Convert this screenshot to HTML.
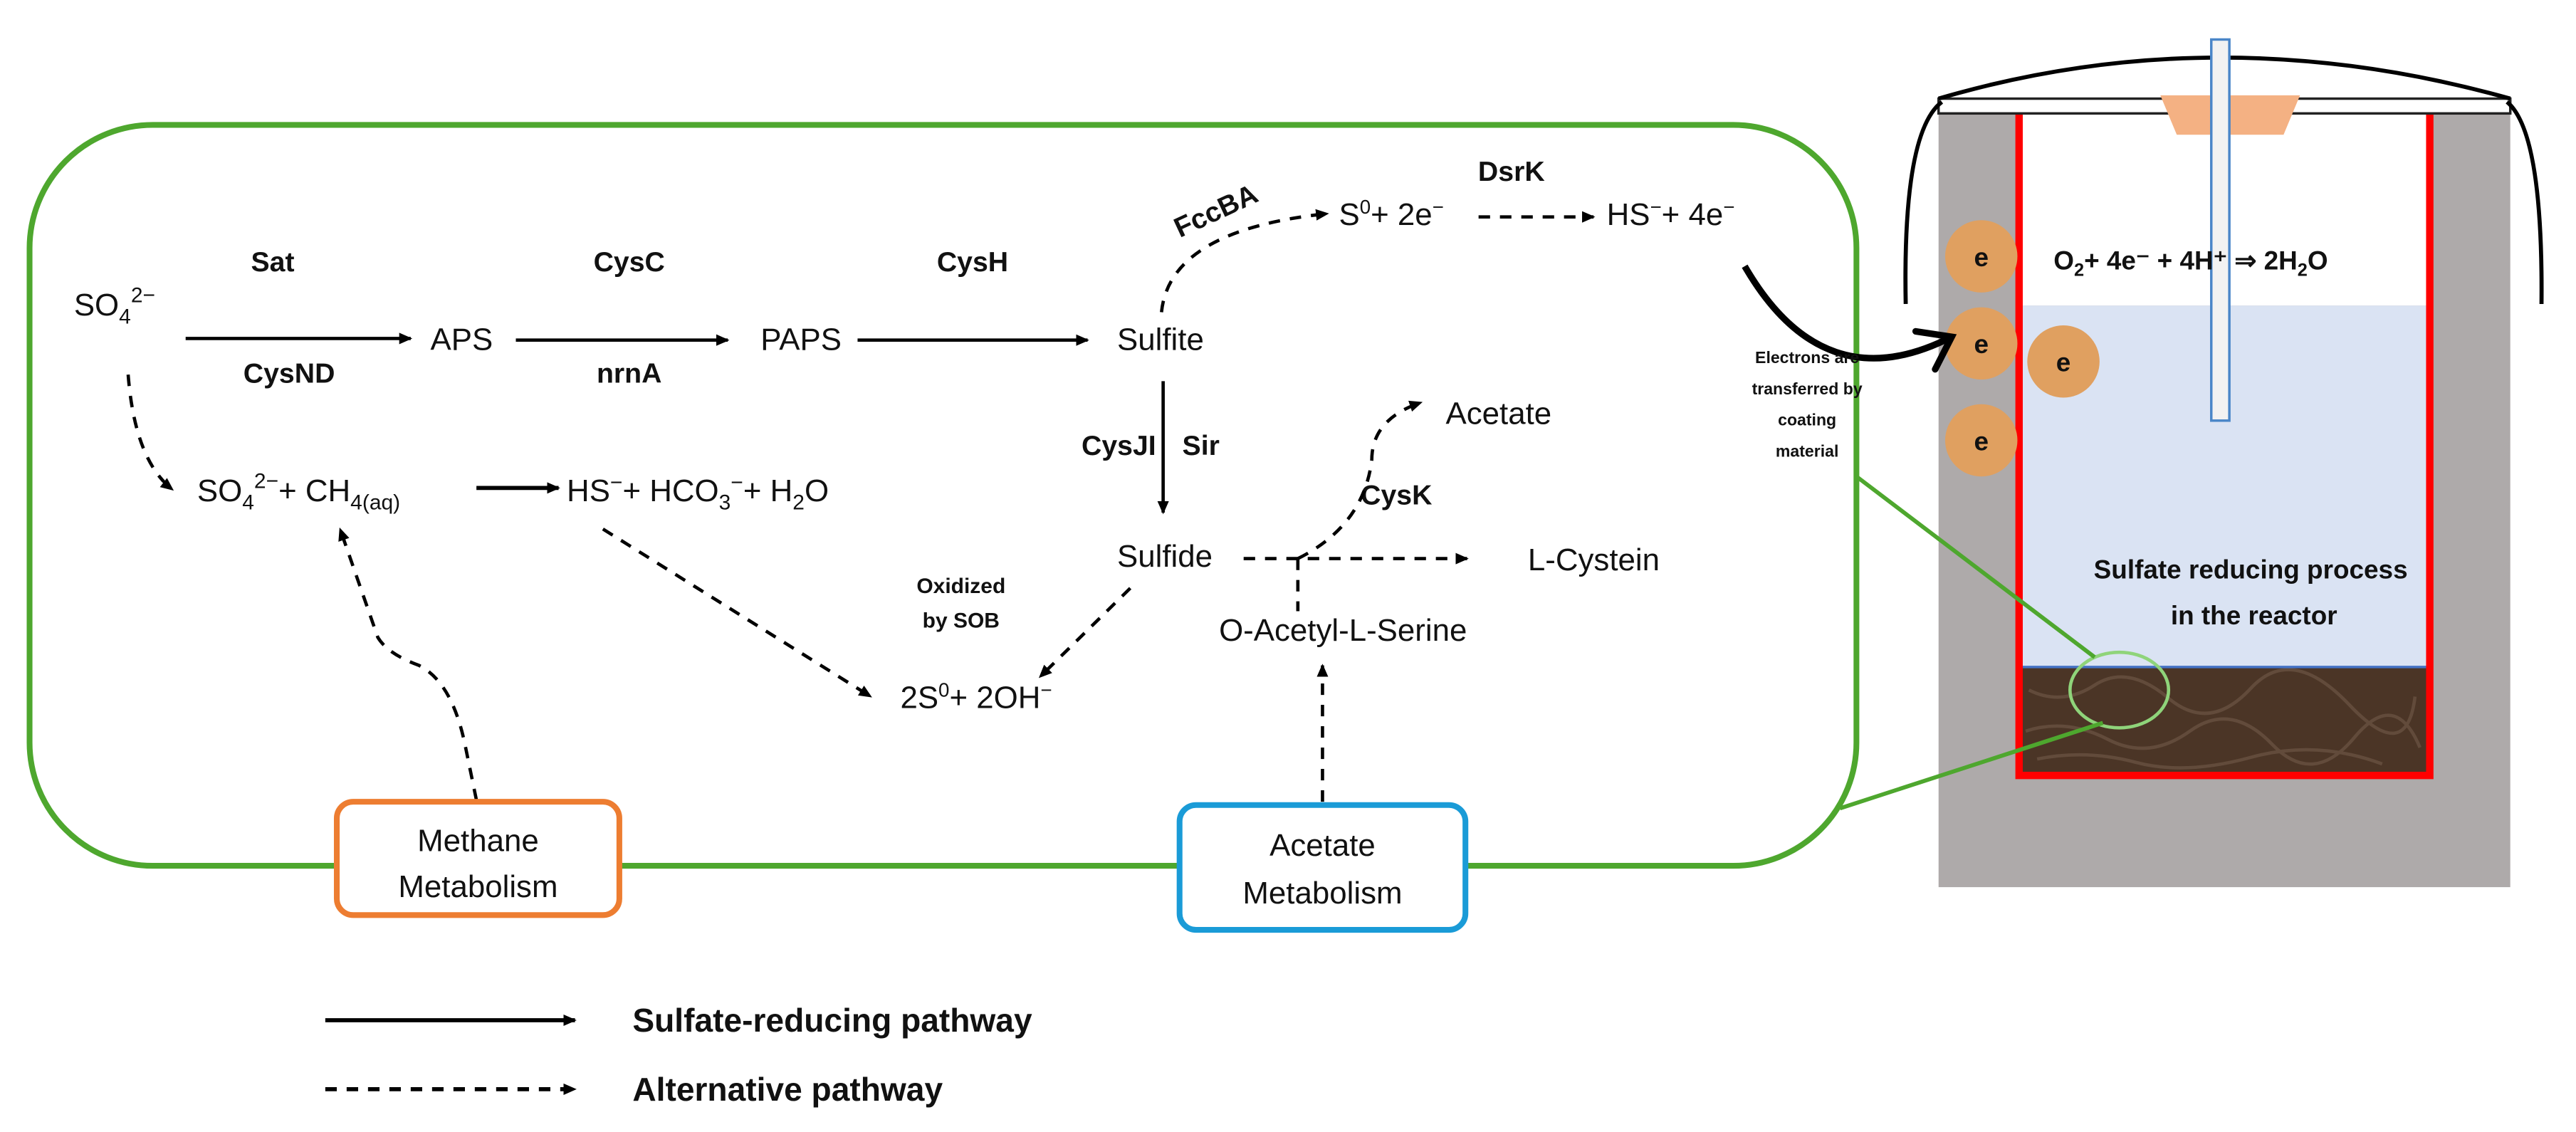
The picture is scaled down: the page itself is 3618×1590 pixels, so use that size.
<!DOCTYPE html>
<html><head><meta charset="utf-8"><style>
html,body{margin:0;padding:0;background:#fff;}
svg{display:block;}
text{font-family:"Liberation Sans Narrow","Liberation Sans",sans-serif;fill:#111;}
.m{font-size:19px;}
.e{font-size:17px;}
.b{font-weight:bold;}
</style></head><body>
<svg width="3618" height="1590" viewBox="0 0 1568 689" xmlns="http://www.w3.org/2000/svg">
<defs>
<marker id="a" markerWidth="8" markerHeight="8" refX="7" refY="4" orient="auto" markerUnits="userSpaceOnUse"><path d="M0,0.5 L8,4 L0,7.5 Z" fill="#000"/></marker>
<marker id="big" markerWidth="30" markerHeight="30" refX="20" refY="15" orient="auto" markerUnits="userSpaceOnUse"><path d="M2,2 L20,15 L2,28" fill="none" stroke="#000" stroke-width="4" stroke-linecap="round"/></marker>
</defs>

<rect x="18" y="76" width="1112" height="451" rx="75" fill="none" stroke="#4ea72e" stroke-width="3.5"/>

<rect x="1180" y="68" width="348" height="472" fill="#aeaaaa"/>
<rect x="1229" y="68" width="250" height="118" fill="#fff"/>
<rect x="1229" y="186" width="250" height="220" fill="#dae3f3"/>
<rect x="1229" y="406" width="250" height="66" fill="#4b3526"/>
<g opacity="0.5" stroke="#7a6250" stroke-width="2" fill="none">
<path d="M1235,420 q20,10 40,-3 t45,8 t50,-6 t60,10 t40,-5"/>
<path d="M1233,445 q25,-8 50,5 t50,-5 t50,8 t50,-4 t40,6"/>
<path d="M1240,462 q30,-6 60,2 t70,-3 t80,4"/>
</g>
<line x1="1229" y1="406" x2="1479" y2="406" stroke="#4472c4" stroke-width="1.5"/>
<path d="M1229,68 V472 H1479 V68" fill="none" stroke="#ff0000" stroke-width="4.5"/>
<rect x="1180" y="60" width="348" height="9" fill="#fff" stroke="#222" stroke-width="1.5"/>
<path d="M1180,60 Q1350,10 1528,60" fill="none" stroke="#000" stroke-width="2.5"/>
<path d="M1182,62 Q1158,80 1160,185" fill="none" stroke="#000" stroke-width="2.5"/>
<path d="M1526,62 Q1548,80 1547,185" fill="none" stroke="#000" stroke-width="2.5"/>
<polygon points="1315,58 1400,58 1390,82 1325,82" fill="#f4b183"/>
<rect x="1346" y="24" width="11" height="232" fill="#f2f2f2" stroke="#4a86c8" stroke-width="1.5"/>
<g fill="#e0a060">
<circle cx="1206" cy="156" r="22"/><circle cx="1206" cy="209" r="22"/><circle cx="1206" cy="268" r="22"/><circle cx="1256" cy="220" r="22"/>
</g>
<g font-size="16" font-weight="bold" text-anchor="middle">
<text x="1206" y="162" style="font-family:'Liberation Sans',sans-serif">e</text>
<text x="1206" y="215" style="font-family:'Liberation Sans',sans-serif">e</text>
<text x="1206" y="274" style="font-family:'Liberation Sans',sans-serif">e</text>
<text x="1256" y="226" style="font-family:'Liberation Sans',sans-serif">e</text>
</g>
<text x="1250" y="164" font-size="16" font-weight="bold" style="font-family:'Liberation Sans',sans-serif">O<tspan font-size="11" dy="4">2</tspan><tspan dy="-4">+ 4e⁻ + 4H⁺ ⇒ 2H</tspan><tspan font-size="11" dy="4">2</tspan><tspan dy="-4">O</tspan></text>
<text x="1370" y="352" font-size="16" font-weight="bold" text-anchor="middle" style="font-family:'Liberation Sans',sans-serif">Sulfate reducing process</text>
<text x="1372" y="380" font-size="16" font-weight="bold" text-anchor="middle" style="font-family:'Liberation Sans',sans-serif">in the reactor</text>
<ellipse cx="1290" cy="420" rx="30" ry="23" fill="none" stroke="#8fd47a" stroke-width="2"/>
<line x1="1130" y1="290" x2="1275" y2="400" stroke="#4ea72e" stroke-width="2.5"/>
<line x1="1120" y1="492" x2="1280" y2="440" stroke="#4ea72e" stroke-width="2.5"/>

<path d="M1062,162 Q1110,245 1188,205" fill="none" stroke="#000" stroke-width="4" marker-end="url(#big)"/>
<g font-size="10" font-weight="bold" text-anchor="middle">
<text x="1100" y="221" style="font-family:'Liberation Sans',sans-serif">Electrons are</text>
<text x="1100" y="240" style="font-family:'Liberation Sans',sans-serif">transferred by</text>
<text x="1100" y="259" style="font-family:'Liberation Sans',sans-serif">coating</text>
<text x="1100" y="278" style="font-family:'Liberation Sans',sans-serif">material</text>
</g>

<g class="m">
<text x="45" y="192">SO<tspan font-size="13" dy="5">4</tspan><tspan font-size="13" dy="-13">2−</tspan></text>
<text x="262" y="213">APS</text>
<text x="463" y="213">PAPS</text>
<text x="680" y="213">Sulfite</text>
<text x="680" y="345">Sulfide</text>
<text x="930" y="347">L-Cystein</text>
<text x="880" y="258">Acetate</text>
<text x="742" y="390">O-Acetyl-L-Serine</text>
<text x="120" y="305">SO<tspan font-size="13" dy="5">4</tspan><tspan font-size="13" dy="-13">2−</tspan><tspan dy="8">+ CH</tspan><tspan font-size="13" dy="5">4(aq)</tspan></text>
<text x="345" y="305">HS<tspan font-size="13" dy="-7">−</tspan><tspan dy="7">+ HCO</tspan><tspan font-size="13" dy="5">3</tspan><tspan font-size="13" dy="-12">−</tspan><tspan dy="7">+ H</tspan><tspan font-size="13" dy="5">2</tspan><tspan dy="-5">O</tspan></text>
<text x="548" y="431">2S<tspan font-size="12" dy="-7">0</tspan><tspan dy="7">+ 2OH</tspan><tspan font-size="12" dy="-7">−</tspan></text>
<text x="815" y="137">S<tspan font-size="12" dy="-7">0</tspan><tspan dy="7">+ 2e</tspan><tspan font-size="12" dy="-7">−</tspan></text>
<text x="978" y="137">HS<tspan font-size="12" dy="-7">−</tspan><tspan dy="7">+ 4e</tspan><tspan font-size="12" dy="-7">−</tspan></text>
</g>
<g class="e b" text-anchor="middle">
<text x="166" y="165">Sat</text>
<text x="176" y="233">CysND</text>
<text x="383" y="165">CysC</text>
<text x="383" y="233">nrnA</text>
<text x="592" y="165">CysH</text>
<text x="681" y="277">CysJI</text>
<text x="731" y="277">Sir</text>
<text x="850" y="307">CysK</text>
<text x="920" y="110">DsrK</text>
<text x="740" y="134" transform="rotate(-25 740 128)">FccBA</text>
</g>
<g font-size="13" font-weight="bold" text-anchor="middle">
<text x="585" y="361">Oxidized</text>
<text x="585" y="382">by SOB</text>
</g>

<g stroke="#000" stroke-width="2" fill="none" marker-end="url(#a)">
<line x1="113" y1="206" x2="250" y2="206"/>
<line x1="314" y1="207" x2="443" y2="207"/>
<line x1="522" y1="207" x2="662" y2="207"/>
<line x1="708" y1="232" x2="708" y2="312"/>
<line x1="290" y1="297" x2="340" y2="297" stroke-width="2.5"/>
</g>
<g stroke="#000" stroke-width="2" fill="none" stroke-dasharray="7,6" marker-end="url(#a)">
<path d="M707,190 Q712,140 808,130"/>
<line x1="900" y1="132" x2="970" y2="132"/>
<path d="M78,228 Q82,280 105,298"/>
<path d="M290,487 L283,453 Q275,415 255,405 Q236,398 230,388 L207,322"/>
<line x1="367" y1="322" x2="530" y2="424"/>
<line x1="688" y1="358" x2="633" y2="412"/>
<line x1="757" y1="340" x2="893" y2="340"/>
<path d="M790,340 Q830,320 835,280 Q835,255 865,245"/>
<line x1="805" y1="488" x2="805" y2="405"/>
</g>
<line x1="790" y1="340" x2="790" y2="372" stroke="#000" stroke-width="2" stroke-dasharray="7,6"/>

<rect x="205" y="488" width="172" height="69" rx="10" fill="#fff" stroke="#ed7d31" stroke-width="3.5"/>
<text x="291" y="518" class="m" text-anchor="middle">Methane</text>
<text x="291" y="546" class="m" text-anchor="middle">Metabolism</text>
<rect x="718" y="490" width="174" height="76" rx="10" fill="#fff" stroke="#1a9bd7" stroke-width="3.5"/>
<text x="805" y="521" class="m" text-anchor="middle">Acetate</text>
<text x="805" y="550" class="m" text-anchor="middle">Metabolism</text>

<line x1="198" y1="621" x2="350" y2="621" stroke="#000" stroke-width="2.5" marker-end="url(#a)"/>
<line x1="198" y1="663" x2="350" y2="663" stroke="#000" stroke-width="2.5" stroke-dasharray="7,6" marker-end="url(#a)"/>
<text x="385" y="628" font-size="20" font-weight="bold">Sulfate-reducing pathway</text>
<text x="385" y="670" font-size="20" font-weight="bold">Alternative pathway</text>
</svg>
</body></html>
